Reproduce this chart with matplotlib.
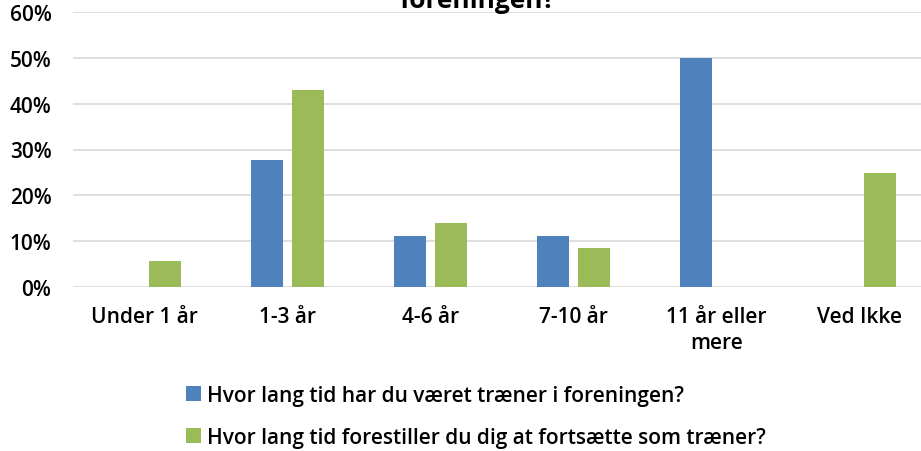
import matplotlib
matplotlib.use("Agg")
import matplotlib.pyplot as plt
import numpy as np
from matplotlib.ticker import FuncFormatter, MultipleLocator

categories = ["Under 1 år", "1-3 år", "4-6 år", "7-10 år", "11 år eller\nmere", "Ved Ikke"]
series_names = ["Hvor lang tid har du været træner i foreningen?",
                "Hvor lang tid forestiller du dig at fortsætte som træner?"]
blue_vals = [0.0, 27.8, 11.1, 11.1, 50.0, 0.0]
green_vals = [5.6, 42.9, 14.0, 8.6, 0.0, 24.8]
title_text = "foreningen?"

plt.rcParams['font.family'] = ['Open Sans', 'DejaVu Sans']
FW = 'semibold'
FS = 15

W, H = 921, 452
fig = plt.figure(figsize=(W / 100, H / 100), dpi=100)
ax = fig.add_axes([73 / W, 164 / H, 858 / W, 275 / H])

x = np.arange(len(categories))
bw = 0.224
off = 0.143
b1 = ax.bar(x - off, blue_vals, bw, color="#4F81BD", label=series_names[0], zorder=3)
b2 = ax.bar(x + off, green_vals, bw, color="#9BBB59", label=series_names[1], zorder=3)

ax.set_xlim(-0.5, len(categories) - 0.5)
ax.set_ylim(0, 60)
ax.yaxis.set_major_locator(MultipleLocator(10))
ax.yaxis.set_major_formatter(FuncFormatter(lambda v, p: f"{int(round(v))}%"))
ax.grid(axis='y', color="#d9d9d9", linewidth=1.2, zorder=0)
ax.set_axisbelow(True)
for s in ax.spines.values():
    s.set_visible(False)
ax.tick_params(axis='both', length=0, labelsize=FS, colors="#000000")
ax.tick_params(axis='y', pad=15.5)
ax.tick_params(axis='x', pad=14)
ax.set_xticks(x)
ax.set_xticklabels(categories, fontweight=FW, linespacing=1.3)
for t in ax.get_yticklabels():
    t.set_fontweight(FW)

fig.text(478 / W, 1 - 8 / H, title_text, ha='center', va='baseline',
         fontsize=19, fontweight='bold')

leg = fig.legend(handles=[b1, b2], loc='upper left', bbox_to_anchor=(186 / W, 1 - 386 / H),
                 ncol=1, frameon=False, fontsize=FS, handlelength=0.7, handleheight=0.7,
                 handletextpad=0.3, labelspacing=1.0, borderaxespad=0, borderpad=0)
for t in leg.get_texts():
    t.set_fontweight(FW)

fig.savefig("out.png", dpi=100)
